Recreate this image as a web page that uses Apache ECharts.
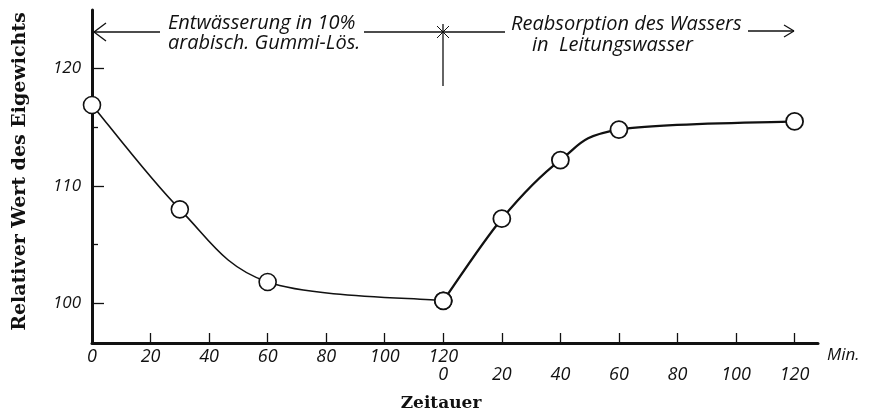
<!DOCTYPE html>
<html>
<head>
<meta charset="utf-8">
<script src="https://cdn.jsdelivr.net/npm/echarts@6/dist/echarts.min.js"></script>
<style>
  html, body { margin: 0; padding: 0; background: #fff; }
  #chart { width: 869px; height: 420px; }
</style>
</head>
<body>
<div id="chart"></div>
<script>
// Zeit läuft auf einer Achse durch: 0–120 Entwässerung, 120–240 Reabsorption
const entwaesserungZeit = [0, 30, 60, 120]
const entwaesserungWert = [116.9, 108.0, 101.8, 100.2]
const reabsorptionZeit = [120, 140, 160, 180, 240]
const reabsorptionWert = [100.2, 107.2, 112.2, 114.8, 115.5]
const zeitTicks = [0, 20, 40, 60, 80, 100, 120, 140, 160, 180, 200, 220, 240]
const wertLabels = [100, 110, 120]
const wertZwischenTicks = [105, 115]

const INK = '#111'
const HAND = '"Open Sans", "DejaVu Sans", sans-serif'
const SERIF = '"DejaVu Serif", "Liberation Serif", serif'

function zeitLabel(v) {
  if (v < 120) return String(v)
  if (v === 120) return '120\n0'
  return '\n' + (v - 120)
}

function pairs(xs, ys) {
  return xs.map((x, i) => [x, ys[i]])
}

// gezeichnete Kurve: Catmull-Rom durch die Messpunkte, Pixel über die Achsen
function kurve(data, width) {
  return function (params, api) {
    if (params.dataIndex !== 0) return null
    const p = data.map((d) => api.coord(d))
    const n = p.length
    let path = 'M' + p[0][0] + ' ' + p[0][1]
    for (let i = 0; i < n - 1; i++) {
      const a = p[Math.max(i - 1, 0)]
      const b = p[i]
      const c = p[i + 1]
      const d = p[Math.min(i + 2, n - 1)]
      const c1x = b[0] + (c[0] - a[0]) / 6
      const c1y = b[1] + (c[1] - a[1]) / 6
      const c2x = c[0] - (d[0] - b[0]) / 6
      const c2y = c[1] - (d[1] - b[1]) / 6
      path += ' C' + c1x + ' ' + c1y + ' ' + c2x + ' ' + c2y + ' ' + c[0] + ' ' + c[1]
    }
    return {
      type: 'path',
      shape: { pathData: path },
      style: { stroke: INK, lineWidth: width, fill: null }
    }
  }
}

function line(x1, y1, x2, y2, w) {
  return { type: 'line', shape: { x1, y1, x2, y2 }, style: { stroke: INK, lineWidth: w || 1.3 } }
}

function text(x, y, str, size) {
  return {
    type: 'text', x, y,
    style: {
      text: str, verticalAlign: 'middle', fill: INK,
      fontFamily: HAND, fontStyle: 'italic', fontWeight: 400, fontSize: size
    }
  }
}

const entwaesserung = pairs(entwaesserungZeit, entwaesserungWert)
const reabsorption = pairs(reabsorptionZeit, reabsorptionWert)

const chart = echarts.init(document.getElementById('chart'))

chart.setOption({
  animation: false,
  grid: { left: 92, right: 51, top: 10, bottom: 77 },
  xAxis: [
    {
      type: 'value',
      min: 0,
      max: 248,
      name: 'Min.',
      nameLocation: 'end',
      nameGap: 9,
      nameTextStyle: {
        color: INK, fontFamily: HAND, fontStyle: 'italic',
        fontSize: 17, verticalAlign: 'top', padding: [4, 0, 0, 0]
      },
      axisLine: { lineStyle: { color: INK, width: 3 } },
      axisTick: { inside: true, length: 10, customValues: zeitTicks, lineStyle: { color: INK, width: 1.3 } },
      axisLabel: {
        customValues: zeitTicks,
        formatter: zeitLabel,
        margin: 5,
        color: INK,
        fontFamily: HAND,
        fontStyle: 'italic',
        fontSize: 18,
        lineHeight: 18
      },
      splitLine: { show: false }
    },
    {
      type: 'value',
      min: 0,
      max: 248,
      position: 'bottom',
      name: 'Zeitauer',
      nameLocation: 'middle',
      nameGap: 52,
      nameTextStyle: {
        color: INK, fontFamily: SERIF, fontWeight: 'bold', fontSize: 17,
        padding: [0, 28, 0, 0]
      },
      axisLine: { show: false },
      axisTick: { show: false },
      axisLabel: { show: false },
      splitLine: { show: false }
    }
  ],
  yAxis: [
    {
      type: 'value',
      min: 96.6,
      max: 125,
      name: 'Relativer Wert des Eigewichts',
      nameLocation: 'middle',
      nameRotate: 90,
      nameGap: 62,
      nameTextStyle: {
        color: INK, fontFamily: SERIF, fontWeight: 'bold', fontSize: 19,
        padding: [0, 0, 0, 10]
      },
      axisLine: { show: true, lineStyle: { color: INK, width: 3 } },
      axisTick: { show: true, inside: true, length: 12, customValues: wertLabels, lineStyle: { color: INK, width: 1.3 } },
      axisLabel: {
        customValues: wertLabels,
        margin: 11,
        color: INK,
        fontFamily: HAND,
        fontStyle: 'italic',
        fontSize: 17
      },
      splitLine: { show: false }
    },
    {
      type: 'value',
      min: 96.6,
      max: 125,
      position: 'left',
      axisLine: { show: false },
      axisTick: { show: true, inside: true, length: 6, customValues: wertZwischenTicks, lineStyle: { color: INK, width: 1.3 } },
      axisLabel: { show: false },
      splitLine: { show: false }
    }
  ],
  series: [
    {
      name: 'Entwässerung Kurve',
      type: 'custom',
      data: entwaesserung,
      renderItem: kurve(entwaesserung, 1.6),
      z: 2
    },
    {
      name: 'Reabsorption Kurve',
      type: 'custom',
      data: reabsorption,
      renderItem: kurve(reabsorption, 2.3),
      z: 2
    },
    {
      name: 'Entwässerung',
      type: 'scatter',
      data: entwaesserung,
      symbol: 'circle',
      symbolSize: 17,
      itemStyle: { color: '#fff', borderColor: INK, borderWidth: 1.6, opacity: 1 },
      z: 3
    },
    {
      name: 'Reabsorption',
      type: 'scatter',
      data: reabsorption,
      symbol: 'circle',
      symbolSize: 17,
      itemStyle: { color: '#fff', borderColor: INK, borderWidth: 1.8, opacity: 1 },
      z: 3
    }
  ],
  graphic: [
    // Pfeil nach links zur Achse
    line(94, 32, 160, 32),
    line(94, 32, 106, 23),
    line(94, 32, 106, 41),
    text(168, 23, 'Entwässerung in 10%', 20),
    text(168, 43, 'arabisch. Gummi-Lös.', 20),
    // Trennstrich bei 120 Min.
    line(364, 32, 505, 32),
    line(443, 24, 443, 86),
    line(437, 26, 449, 38, 1),
    line(449, 26, 437, 38, 1),
    text(511, 24, 'Reabsorption des Wassers', 20),
    text(532, 45, 'in  Leitungswasser', 20),
    // Pfeil nach rechts
    line(748, 31, 794, 31),
    line(794, 31, 784, 25),
    line(794, 31, 784, 37)
  ]
})
</script>
</body>
</html>
